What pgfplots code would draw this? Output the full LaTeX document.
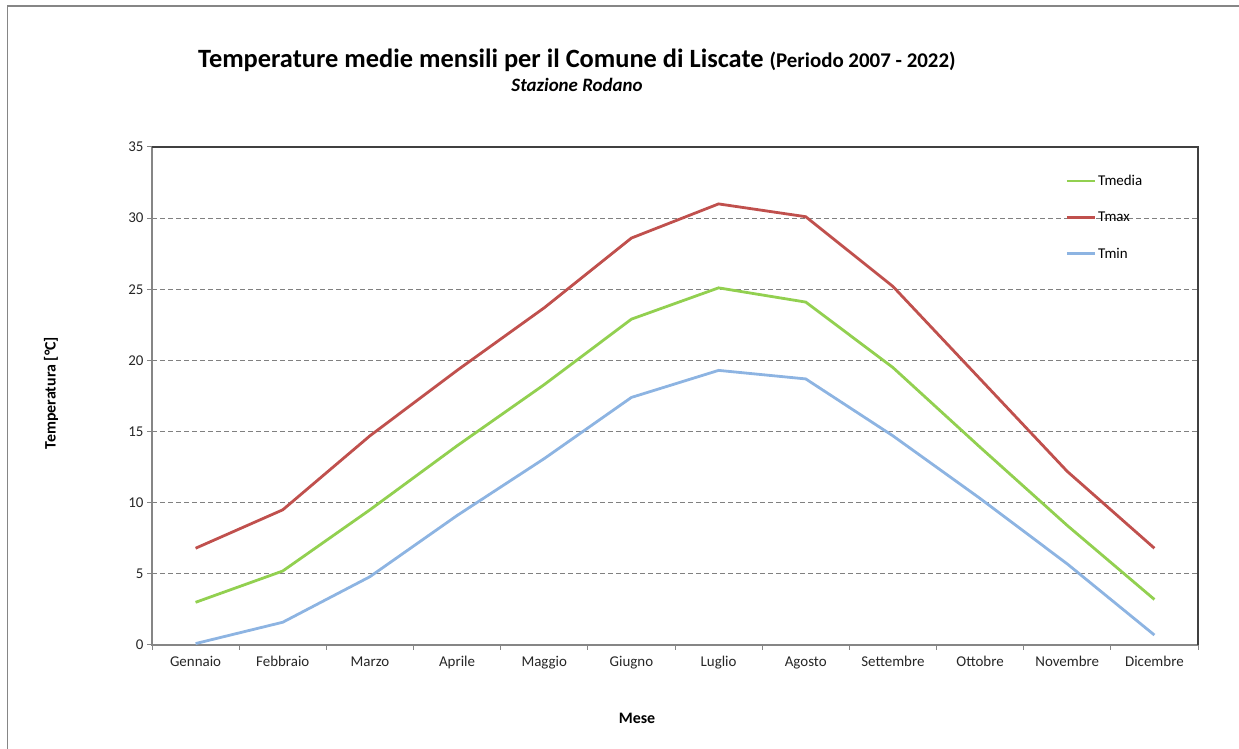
\documentclass[border=0pt]{standalone}
\usepackage{pgfplots}
\pgfplotsset{compat=1.18}
\usepackage{fontspec}
\setmainfont{Carlito}
\definecolor{cmax}{RGB}{192,80,77}
\definecolor{cmed}{RGB}{146,208,80}
\definecolor{cmin}{RGB}{141,180,226}
\definecolor{axgray}{RGB}{134,134,134}
\pgfplotstableread{
x tmed tmax tmin
0 3.0 6.8 0.1
1 5.2 9.5 1.6
2 9.5 14.7 4.8
3 14.0 19.3 9.1
4 18.3 23.7 13.1
5 22.9 28.6 17.4
6 25.1 31.0 19.3
7 24.1 30.1 18.7
8 19.5 25.2 14.7
9 13.9 18.7 10.3
10 8.4 12.2 5.7
11 3.2 6.8 0.7
}\datatable
\begin{document}
\begin{tikzpicture}
\path[use as bounding box] (0,0) rectangle (1239bp,749bp);
\draw[axgray, line width=1.5bp] (7.5bp,0) -- (7.5bp,743bp) -- (1239bp,743bp);
\begin{axis}[
  at={(152bp,104bp)}, anchor=south west,
  scale only axis, width=1046bp, height=498bp,
  xmin=-0.5, xmax=11.5, ymin=0, ymax=35,
  xtick={0,...,11},
  xticklabels={Gennaio,Febbraio,Marzo,Aprile,Maggio,Giugno,Luglio,Agosto,Settembre,Ottobre,Novembre,Dicembre},
  minor xtick={-0.5,0.5,...,11.5},
  x tick style={draw=none},
  minor x tick style={draw=axgray, line width=1bp},
  minor tick length=5bp,
  ytick={0,5,...,35},
  y tick style={draw=axgray, line width=1bp},
  major tick length=5bp,
  tick align=outside,
  xtick pos=bottom, ytick pos=left,
  ymajorgrids,
  grid style={gray, line width=0.8bp, dash pattern=on 5bp off 3bp},
  axis line style={draw=none},
  tick label style={font=\fontsize{15}{17}\selectfont, text=black!85},
  /pgf/number format/assume math mode=true,
  xticklabel style={yshift=-3bp},
  legend style={draw=none, fill=none, at={(0.873,0.948)}, anchor=north west,
    font=\fontsize{15}{17}\selectfont, row sep=21bp, inner sep=0pt},
  legend cell align=left,
  legend image code/.code={\draw[#1] (0bp,0bp) -- (28bp,0bp);},
  clip=false,
]
\draw[axgray, line width=1.5bp] (axis cs:-0.5,35) -- (axis cs:-0.5,0) -- (axis cs:11.5,0);
\draw[black!75, line width=1.5bp] (axis cs:-0.5,35) -- (axis cs:11.5,35) -- (axis cs:11.5,0);
\addplot[cmed, line width=2.8bp] table[x=x,y=tmed] {\datatable};
\addlegendentry{Tmedia}
\addplot[cmax, line width=2.8bp] table[x=x,y=tmax] {\datatable};
\addlegendentry{Tmax}
\addplot[cmin, line width=2.8bp] table[x=x,y=tmin] {\datatable};
\addlegendentry{Tmin}
\end{axis}
\node[anchor=base west, inner sep=0] at (198bp,681bp) {\fontsize{26.5}{30}\selectfont\bfseries Temperature medie mensili per il Comune di Liscate {\fontsize{21}{24}\selectfont(Periodo 2007 - 2022)}};
\node[anchor=base, inner sep=0] at (577bp,657bp) {\fontsize{19}{22}\selectfont\bfseries\itshape Stazione Rodano};
\node[rotate=90, anchor=center, inner sep=0] at (51bp,356bp) {\fontsize{16}{18}\selectfont\bfseries Temperatura [°C]};
\node[anchor=center, inner sep=0] at (637bp,31bp) {\fontsize{16}{18}\selectfont\bfseries Mese};
\end{tikzpicture}
\end{document}
